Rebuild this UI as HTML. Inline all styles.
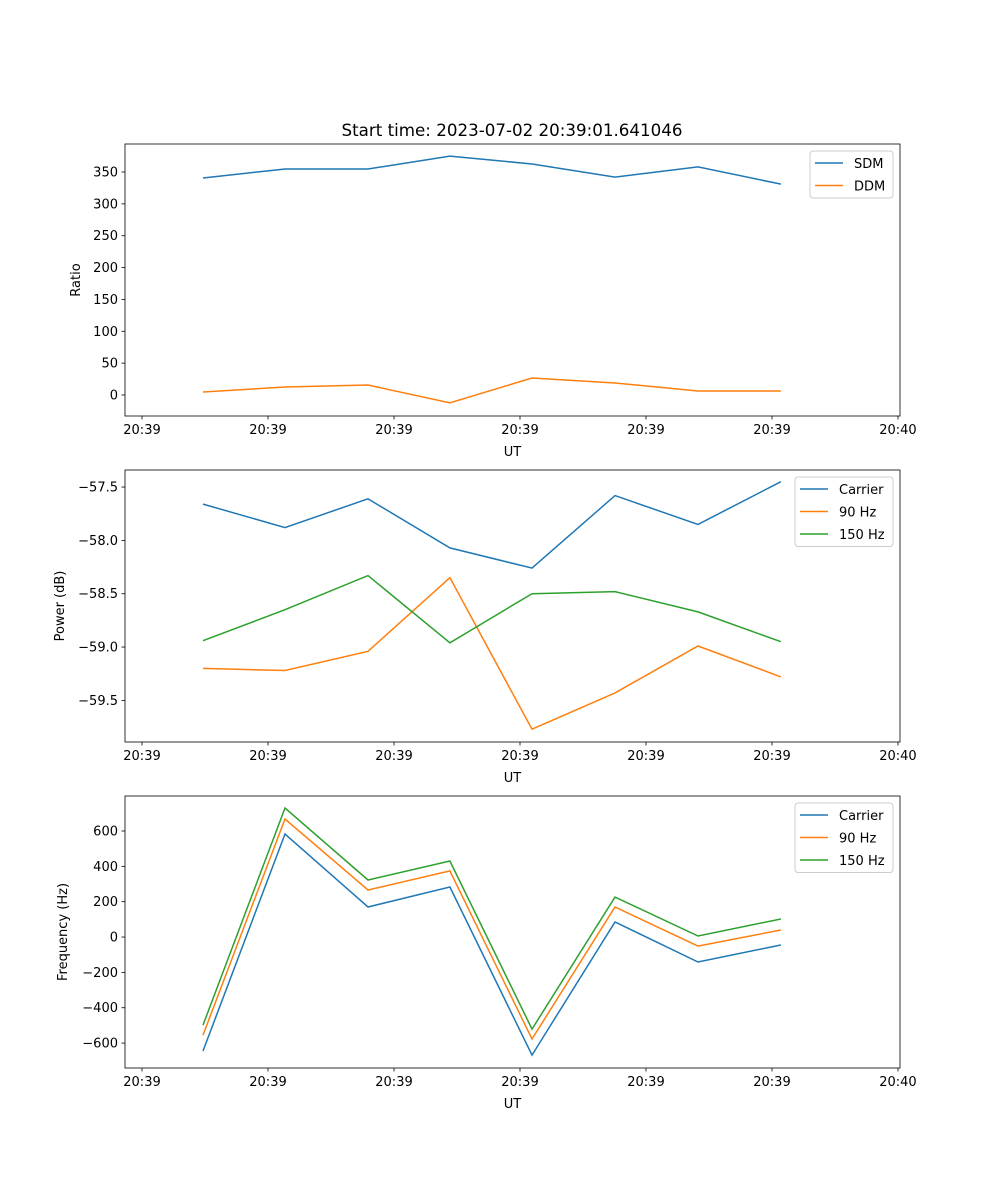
<!DOCTYPE html>
<html><head><meta charset="utf-8"><style>
html,body{margin:0;padding:0;background:#fff;}
svg{display:block;font-family:"DejaVu Sans","Liberation Sans",sans-serif;}
</style></head><body>
<svg id="chart" width="1000" height="1200" viewBox="0 0 1000 1200" xmlns="http://www.w3.org/2000/svg">
<text x="512" y="136" font-size="16.7" text-anchor="middle">Start time: 2023-07-02 20:39:01.641046</text>
</svg>
<script>
const times = [4.84, 11.35, 17.94, 24.44, 30.95, 37.54, 44.13, 50.71];
const xTicks = [0, 10, 20, 30, 40, 50, 60];
const xTickLabels = ["20:39","20:39","20:39","20:39","20:39","20:39","20:40"];
const sdm = [340.6, 354.7, 354.7, 375, 362.6, 342, 358, 331];
const ddm = [4.7, 12.5, 15.7, -12.5, 26.7, 18.8, 6.3, 6.3];
const powCarrier = [-57.66, -57.88, -57.61, -58.07, -58.26, -57.58, -57.85, -57.45];
const pow90 = [-59.20, -59.22, -59.04, -58.35, -59.77, -59.43, -58.99, -59.28];
const pow150 = [-58.94, -58.65, -58.33, -58.96, -58.50, -58.48, -58.67, -58.95];
const freqCarrier = [-645, 583, 170, 283, -668, 85, -141, -45];
const freq90 = [-555, 668, 266, 374, -577, 170, -51, 40];
const freq150 = [-498, 730, 323, 430, -521, 226, 6, 102];
const ratioTicks = [0, 50, 100, 150, 200, 250, 300, 350];
const powTicks = [-57.5, -58.0, -58.5, -59.0, -59.5];
const powTickLabels = ["\u221257.5","\u221258.0","\u221258.5","\u221259.0","\u221259.5"];
const freqTicks = [600, 400, 200, 0, -200, -400, -600];
const freqTickLabels = ["600","400","200","0","\u2212200","\u2212400","\u2212600"];

const svg = document.getElementById('chart');
const NS = 'http://www.w3.org/2000/svg';
const L = 125, R = 900;
const xDom = [-1.35, 60.16];
const C = {blue:'#1f77b4', orange:'#ff7f0e', green:'#2ca02c'};
function xs(v){ return L + (v - xDom[0]) / (xDom[1] - xDom[0]) * (R - L); }
function mk(tag, attrs, parent){ const e = document.createElementNS(NS, tag); for (const k in attrs) e.setAttribute(k, attrs[k]); (parent||svg).appendChild(e); return e; }

function panel(name, top, yDom, ticks, tickLabels, ylabel, series, legend){
  const bot = top + 272;
  const ys = v => bot - (v - yDom[0]) / (yDom[1] - yDom[0]) * (bot - top);
  const g = mk('g', {});
  
  
  series.forEach(s => {
    const d = times.map((t,i) => (i?'L':'M') + xs(t).toFixed(1) + ',' + ys(s.vals[i]).toFixed(1)).join(' ');
    const p = mk('path', {d:d, fill:'none', stroke:s.color, 'stroke-width':1.5}, g);
    
    
  });
  const fr = mk('rect', {x:L, y:top, width:R-L, height:bot-top, fill:'none', stroke:'#000', 'stroke-width':0.8}, g);
  
  
  xTicks.forEach((t,i) => {
    const x = xs(t);
    mk('line', {x1:x, x2:x, y1:bot, y2:bot+3.5, stroke:'#000', 'stroke-width':0.8}, g);
    const tx = mk('text', {x:x, y:bot+18, 'font-size':13, 'text-anchor':'middle'}, g);
    tx.textContent = xTickLabels[i];
    
    
  });
  ticks.forEach((t,i) => {
    const y = ys(t);
    mk('line', {x1:L-3.5, x2:L, y1:y, y2:y, stroke:'#000', 'stroke-width':0.8}, g);
    const tx = mk('text', {x:L-7, y:y+4.5, 'font-size':13, 'text-anchor':'end'}, g);
    tx.textContent = tickLabels[i];
    
    
  });
  const xl = mk('text', {x:(L+R)/2, y:bot+40, 'font-size':13, 'text-anchor':'middle'}, g);
  xl.textContent = 'UT';
  
  
  const lx = legend.x;
  const yl = mk('text', {x:0, y:0, 'font-size':13, 'text-anchor':'middle', transform:'translate('+legend.yl+','+((top+bot)/2)+') rotate(-90)'}, g);
  yl.textContent = ylabel;
  
  
  const lg = mk('g', {}, g);
  
  
  mk('rect', {x:lx, y:top+7, width:R-7-lx, height:series.length*22.5+2, rx:3, fill:'#fff', 'fill-opacity':0.8, stroke:'#ccc'}, lg);
  series.forEach((s,i) => {
    const y = top + 19 + i*22.5;
    const e = mk('g', {}, lg);
    
    
    mk('line', {x1:lx+5, x2:lx+33, y1:y, y2:y, stroke:s.color, 'stroke-width':1.5}, e);
    const t = mk('text', {x:lx+44, y:y+5, 'font-size':13}, e);
    t.textContent = s.label;
  });
}
panel('ratio-panel', 144, [-33, 394], ratioTicks, ratioTicks.map(String), 'Ratio',
  [{id:'sdm', label:'SDM', vals:sdm, color:C.blue},{id:'ddm', label:'DDM', vals:ddm, color:C.orange}], {x:810, yl:80});
panel('power-panel', 470, [-59.89, -57.34], powTicks, powTickLabels, 'Power (dB)',
  [{id:'carrier', label:'Carrier', vals:powCarrier, color:C.blue},{id:'90hz', label:'90 Hz', vals:pow90, color:C.orange},{id:'150hz', label:'150 Hz', vals:pow150, color:C.green}], {x:795, yl:64});
panel('frequency-panel', 796, [-741, 798], freqTicks, freqTickLabels, 'Frequency (Hz)',
  [{id:'carrier', label:'Carrier', vals:freqCarrier, color:C.blue},{id:'90hz', label:'90 Hz', vals:freq90, color:C.orange},{id:'150hz', label:'150 Hz', vals:freq150, color:C.green}], {x:795, yl:67});
</script>
</body></html>
